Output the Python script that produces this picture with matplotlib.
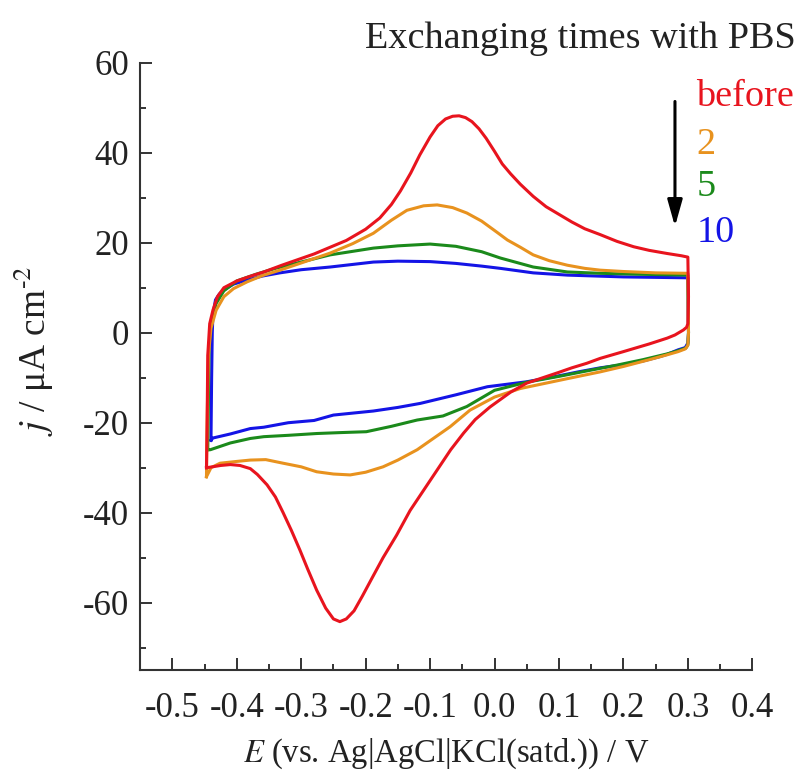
import matplotlib
matplotlib.use("Agg")
import matplotlib.pyplot as plt

plt.rcParams['font.family'] = ['Liberation Serif', 'DejaVu Serif']
plt.rcParams['mathtext.fontset'] = 'stix'

# ---- data ----
# "before" (red)
E_before = [-0.447, -0.446, -0.445, -0.442, -0.437, -0.430, -0.420, -0.400, -0.380, -0.358, -0.330, -0.306,
            -0.280, -0.255, -0.230, -0.200, -0.178, -0.160, -0.146, -0.130, -0.116, -0.100, -0.088, -0.076,
            -0.065, -0.055, -0.045, -0.035, -0.024, -0.013, 0.000, 0.012, 0.025, 0.040, 0.060, 0.080, 0.100,
            0.120, 0.140, 0.164, 0.190, 0.216, 0.240, 0.268, 0.290, 0.300,
            0.301, 0.300, 0.298, 0.293, 0.280, 0.268, 0.240, 0.200, 0.164, 0.143, 0.120, 0.100, 0.075, 0.050,
            0.025, -0.007, -0.030, -0.048, -0.068, -0.089, -0.110, -0.131, -0.152, -0.173, -0.190, -0.205,
            -0.218, -0.230, -0.240, -0.250, -0.262, -0.276, -0.290, -0.302, -0.315, -0.328, -0.340, -0.353,
            -0.368, -0.379, -0.395, -0.410, -0.425, -0.438, -0.447]
j_before = [-30, -20, -5, 2, 5, 8, 10, 11.5, 12.5, 13.5, 15, 16.2,
            17.5, 19, 20.5, 23, 25.5, 28.5, 31.5, 35.5, 39.5, 43.5, 46.0, 47.5,
            48.1, 48.2, 47.8, 46.9, 45.3, 43.2, 40.3, 37.5, 35.3, 33.0, 30.3, 28.0, 26.3,
            24.6, 23.1, 21.8, 20.3, 19.1, 18.3, 17.6, 17.1, 16.8,
            8, 2, 1.2, 0.6, -0.5, -1.2, -2.5, -4.2, -5.7, -6.8, -7.8, -8.8, -10, -11.2,
            -13.2, -16.5, -19.3, -22.3, -26, -30.5, -35, -39.5, -45, -50, -54.5, -58.5,
            -61.8, -63.6, -64.2, -63.6, -61.2, -57.2, -52.5, -48.3, -44, -40, -36.5, -33.8,
            -31.5, -30.2, -29.5, -29.3, -29.5, -29.8, -30]

# after 2 exchanges (orange)
E_2 = [-0.447, -0.446, -0.444, -0.440, -0.432, -0.420, -0.405, -0.384, -0.360, -0.333, -0.300, -0.255,
       -0.220, -0.188, -0.160, -0.136, -0.110, -0.089, -0.065, -0.043, -0.020, 0.004, 0.020, 0.040, 0.060,
       0.085, 0.113, 0.140, 0.164, 0.200, 0.250, 0.300,
       0.301, 0.300, 0.296, 0.285, 0.268, 0.240, 0.200, 0.164, 0.120, 0.080, 0.040, 0.000, -0.038, -0.069,
       -0.095, -0.120, -0.150, -0.173, -0.200, -0.224, -0.250, -0.276, -0.300, -0.328, -0.355, -0.379,
       -0.400, -0.426, -0.440, -0.447]
j_2 = [-32, -20, -5, 1, 5, 8, 9.8, 11.3, 12.7, 13.9, 15.5, 17.7,
       19.8, 22.1, 25, 27.2, 28.2, 28.4, 27.8, 26.6, 24.8, 22.3, 20.6, 19, 17.3,
       16, 15, 14.3, 13.9, 13.6, 13.3, 13.2,
       0, -2.8, -3.6, -4.2, -4.9, -6, -7.5, -8.7, -10, -11.2, -12.4, -14.3, -17.2, -20.9,
       -23.5, -26, -28.3, -29.8, -31, -31.6, -31.4, -30.9, -29.8, -29, -28.2, -28.3,
       -28.6, -29, -30, -32]

# after 5 exchanges (green)
E_5 = [-0.445, -0.444, -0.443, -0.440, -0.432, -0.420, -0.400, -0.370, -0.340, -0.306, -0.255, -0.188,
       -0.150, -0.100, -0.060, -0.020, 0.009, 0.060, 0.113, 0.164, 0.220, 0.300,
       0.301, 0.300, 0.297, 0.285, 0.268, 0.230, 0.190, 0.150, 0.100, 0.050, 0.000, -0.043, -0.080,
       -0.120, -0.160, -0.199, -0.240, -0.276, -0.320, -0.358, -0.379, -0.410, -0.441, -0.445]
j_5 = [-26, -15, -3, 2, 6.5, 9.3, 11.5, 13, 14.3, 15.5, 17.3, 18.8,
       19.3, 19.7, 19.2, 18, 16.6, 14.6, 13.5, 13.2, 13, 12.8,
       0, -2.7, -3.4, -4.0, -4.7, -6, -7.2, -8.3, -9.7, -11, -12.8, -16.4, -18.5,
       -19.4, -20.8, -22, -22.2, -22.4, -22.8, -23.1, -23.5, -24.5, -26, -26]

# after 10 exchanges (blue)
E_10 = [-0.440, -0.439, -0.438, -0.437, -0.433, -0.427, -0.420, -0.405, -0.384, -0.360, -0.333, -0.300,
        -0.255, -0.188, -0.150, -0.100, -0.060, -0.020, 0.009, 0.060, 0.113, 0.200, 0.300,
        0.301, 0.300, 0.296, 0.285, 0.268, 0.257, 0.230, 0.195, 0.164, 0.130, 0.092, 0.050, -0.011,
        -0.060, -0.115, -0.150, -0.188, -0.250, -0.280, -0.320, -0.358, -0.379, -0.410, -0.437, -0.440]
j_10 = [-23.9, -10, 0, 4, 7.3, 8.6, 9.5, 10.8, 11.7, 12.6, 13.3, 14,
        14.6, 15.7, 15.9, 15.8, 15.4, 14.8, 14.3, 13.3, 12.8, 12.4, 12.2,
        0, -2.3, -3.3, -3.8, -4.8, -5.3, -6.3, -7.2, -7.8, -8.7, -9.8, -10.9, -12,
        -13.8, -15.7, -16.6, -17.4, -18.3, -19.5, -20, -21, -21.3, -22.5, -23.4, -23.9]

labels = ["before", "2", "5", "10"]
colors = ["#e8141e", "#e8921e", "#1b8a1b", "#1414e6"]

series = [(E_before, j_before), (E_2, j_2), (E_5, j_5), (E_10, j_10)]

fig = plt.figure(figsize=(8.01, 7.76), dpi=100)
ax = fig.add_axes([0.1749, 0.1363, 0.7643, 0.7829])

for (E, j), c in list(zip(series, colors))[::-1]:
    ax.plot(E, j, color=c, lw=2.2, solid_joinstyle='round')

ax.set_xlim(-0.55, 0.4)
ax.set_ylim(-75, 60)
ax.set_xticks([-0.5, -0.4, -0.3, -0.2, -0.1, 0.0, 0.1, 0.2, 0.3, 0.4])
ax.set_xticklabels(["-0.5", "-0.4", "-0.3", "-0.2", "-0.1", "0.0", "0.1", "0.2", "0.3", "0.4"])
ax.set_xticks([-0.45, -0.35, -0.25, -0.15, -0.05, 0.05, 0.15, 0.25, 0.35], minor=True)
ax.set_yticks([-60, -40, -20, 0, 20, 40, 60])
ax.set_yticklabels(["-60", "-40", "-20", "0", "20", "40", "60"])
ax.set_yticks([-70, -50, -30, -10, 10, 30, 50], minor=True)

for s in ["top", "right"]:
    ax.spines[s].set_visible(False)
for s in ["left", "bottom"]:
    ax.spines[s].set_linewidth(1.5)
    ax.spines[s].set_color("#333333")

ax.tick_params(which="major", direction="in", length=8.5, width=1.4, colors="#333333",
               labelsize=25, pad=8, labelcolor="#222222")
ax.tick_params(which="minor", direction="in", length=4.5, width=1.4, colors="#333333")
ax.tick_params(axis="x", which="major", pad=16)

ax.set_xlabel(r"$E$ (vs. Ag|AgCl|KCl(satd.)) / V", fontsize=23.5, color="#222222", labelpad=8)
ax.set_ylabel(r"$j$ / μA cm$^{\text{-2}}$", fontsize=27, color="#222222")
ax.yaxis.set_label_coords(-0.137, 0.525)

# annotation
fig.text(0.993, 0.950, "Exchanging times with PBS", fontsize=27.5, ha="right", va="center", color="#222222")
ax.annotate("", xy=(0.28, 23.0), xytext=(0.28, 52.0),
            arrowprops=dict(arrowstyle="-|>,head_length=1.6,head_width=0.45", color="black", lw=2.2))
ytext = [52.4, 41.7, 32.4, 22.2]
for lab, c, yv in zip(labels, colors, ytext):
    ax.text(0.313, yv, lab, color=c, fontsize=27.5, ha="left", va="center", clip_on=False)

fig.savefig("out.png", dpi=100)
